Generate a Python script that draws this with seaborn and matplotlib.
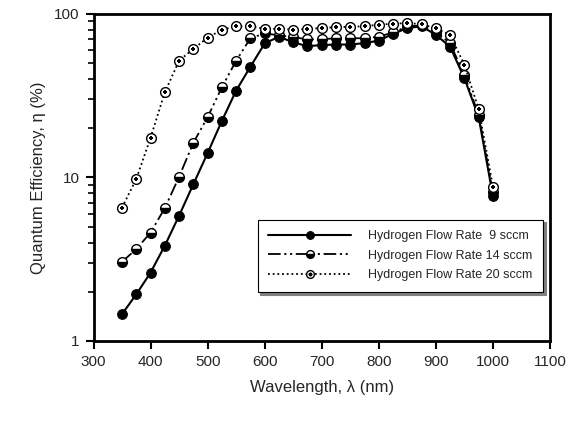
import matplotlib
matplotlib.use("Agg")
import matplotlib.pyplot as plt
import seaborn as sns
import pandas as pd
from matplotlib.legend_handler import HandlerTuple
from matplotlib.ticker import FixedLocator, NullFormatter

# wavelength (nm)
wavelength = [350, 375, 400, 425, 450, 475, 500, 525, 550, 575, 600, 625, 650, 675,
              700, 725, 750, 775, 800, 825, 850, 875, 900, 925, 950, 975, 1000]
# quantum efficiency (%)
qe_9 = [1.46, 1.93, 2.62, 3.83, 5.84, 9.1, 14.1, 22.2, 34, 47.6, 66, 72.6, 67, 63.5,
        64.5, 65, 65, 66.3, 68.7, 75.5, 82, 84, 74.5, 63, 40.4, 23.4, 7.7]
qe_14 = [3.05, 3.65, 4.6, 6.5, 10.1, 16.3, 23.4, 35.6, 51.8, 71, 76, 74, 72, 70,
         70, 71, 71, 71, 72.6, 77, 84, 85, 78, 66, 42.2, 24.1, 8.1]
qe_20 = [6.54, 9.8, 17.5, 33.2, 51.8, 61.1, 71.6, 80, 84, 84, 81, 81, 80, 81,
         82, 83, 83.5, 84, 86, 87, 88, 86.5, 81.7, 74.5, 48.8, 26.2, 8.8]
labels = ["Hydrogen Flow Rate  9 sccm", "Hydrogen Flow Rate 14 sccm", "Hydrogen Flow Rate 20 sccm"]

df = pd.DataFrame({"wl": wavelength, "q9": qe_9, "q14": qe_14, "q20": qe_20})

sns.set_style("ticks")
plt.rcParams["font.family"] = ["Liberation Sans", "DejaVu Sans"]

fig = plt.figure(figsize=(5.72, 4.22), dpi=100)
ax = fig.add_axes([0.1635, 0.192, 0.798, 0.775])

sns.lineplot(data=df, x="wl", y="q9", ax=ax, color="black", lw=1.5,
             marker="o", markersize=7, markerfacecolor="black", markeredgecolor="black")
sns.lineplot(data=df, x="wl", y="q14", ax=ax, color="black", lw=1.3,
             linestyle=(0, (7, 2, 1.2, 2, 1.2, 2)),
             marker="o", markersize=7, fillstyle="bottom", markerfacecolor="black",
             markerfacecoloralt="white", markeredgecolor="black", markeredgewidth=1)
sns.lineplot(data=df, x="wl", y="q20", ax=ax, color="black", lw=1.3,
             linestyle=(0, (1, 1.6)),
             marker="o", markersize=7, markerfacecolor="white", markeredgecolor="black",
             markeredgewidth=1)
sns.scatterplot(data=df, x="wl", y="q20", ax=ax, color="black", marker="P", s=8,
                linewidth=0, zorder=5)

h = ax.get_lines()
dot = plt.Line2D([], [], marker="P", color="black", markersize=2.5, linestyle="none")
leg = ax.legend([h[0], h[1], (h[2], dot)], labels, loc="lower right",
                bbox_to_anchor=(0.985, 0.15), fontsize=9, frameon=True, fancybox=False,
                shadow={"color": "0.5", "alpha": 1, "ox": 2, "oy": -2},
                edgecolor="black", handlelength=6.6, handletextpad=1.4,
                handler_map={tuple: HandlerTuple(ndivide=1, pad=0)}, borderpad=0.85,
                labelspacing=0.6, markerscale=0.8, borderaxespad=0)
leg.get_frame().set_linewidth(0.8)

ax.set_yscale("log")
ax.set_xlim(300, 1100)
ax.set_ylim(1, 100)
ax.set_xticks(range(300, 1101, 100))
ax.set_yticks([1, 10, 100])
ax.set_yticklabels(["1", "10", "100"])
minor = [m * d for d in (1, 10) for m in range(2, 10)]
ax.yaxis.set_minor_locator(FixedLocator(minor))
ax.yaxis.set_minor_formatter(NullFormatter())
ax.tick_params(labelsize=11, width=1.5, length=6, direction="out", color="black", pad=4)
ax.tick_params(axis="y", which="minor", width=1.2, length=4, left=True, color="black")
for s in ax.spines.values():
    s.set_linewidth(2)
    s.set_color("black")
ax.set_xlabel("Wavelength, λ (nm)", fontsize=12, labelpad=8)
ax.set_ylabel("Quantum Efficiency, η (%)", fontsize=12, labelpad=6)

fig.savefig("out.png", dpi=100)
